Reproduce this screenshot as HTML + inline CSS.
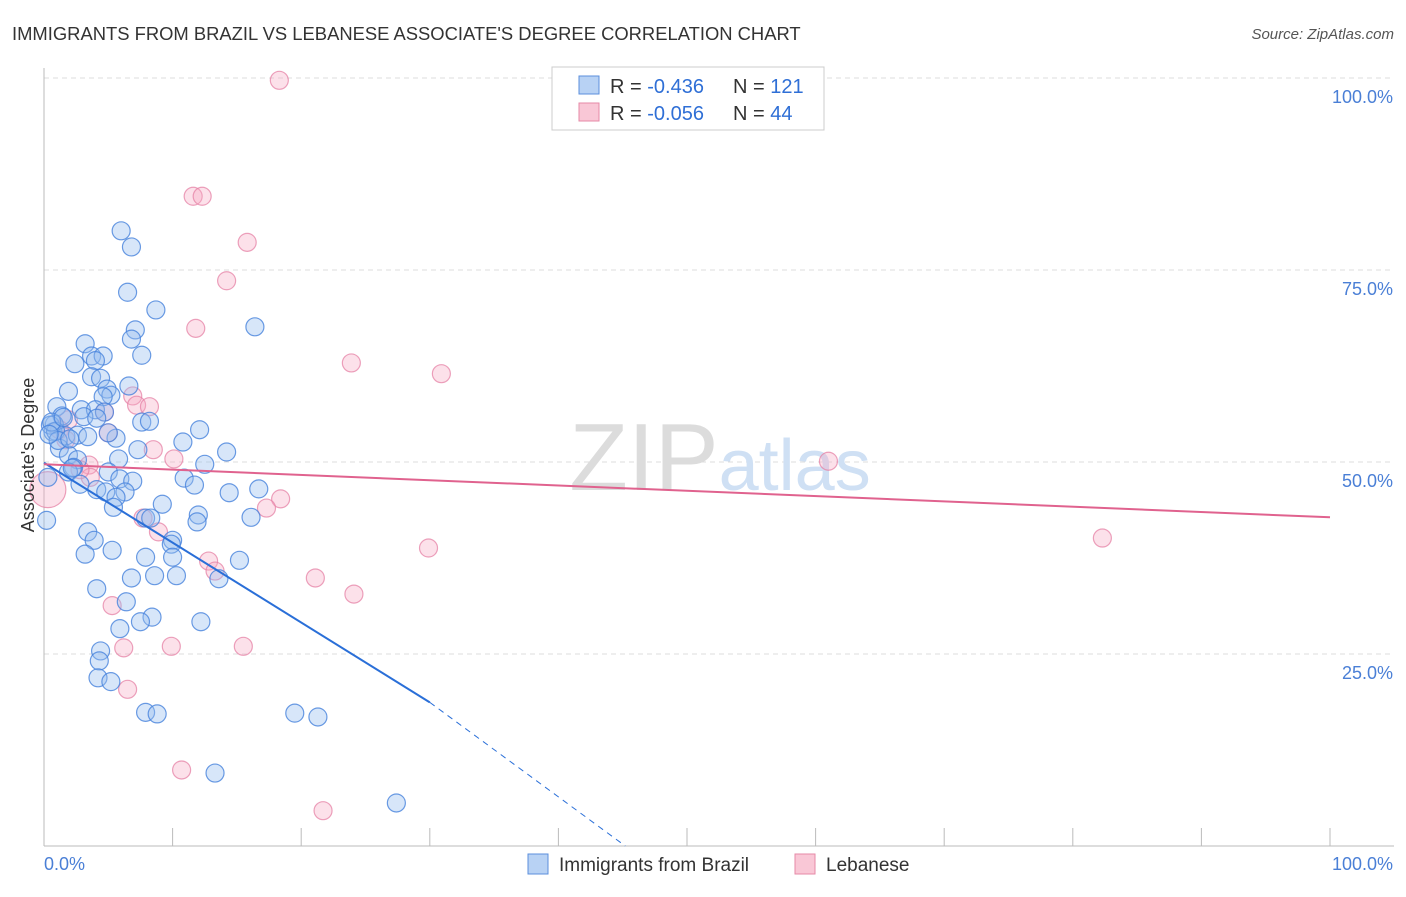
<!DOCTYPE html>
<html><head><meta charset="utf-8"><style>
body{margin:0;background:#fff;font-family:"Liberation Sans",sans-serif}
svg text{font-family:"Liberation Sans",sans-serif}
</style></head><body>
<svg id="chart" width="1406" height="892">
<text x="12" y="40" font-size="18.4" fill="#333">IMMIGRANTS FROM BRAZIL VS LEBANESE ASSOCIATE'S DEGREE CORRELATION CHART</text>
<text x="1394" y="39" font-size="15" fill="#555" text-anchor="end" font-style="italic">Source: ZipAtlas.com</text>
<g id="grid"></g>
<text x="720" y="490" font-size="96" fill="#e4e4e4" text-anchor="middle" font-family="Liberation Serif"><tspan fill="#dcdcdc">ZIP</tspan><tspan fill="#cfe0f4" font-family="Liberation Sans" font-size="72">atlas</tspan></text>
<g id="points"></g>
<g id="lines"></g>
<text x="34" y="455" font-size="18" fill="#333" text-anchor="middle" transform="rotate(-90 34 455)">Associate's Degree</text>
<g>
<rect x="552" y="67" width="272" height="63" fill="#fff" stroke="#ccc"/>
<rect x="579" y="76" width="20" height="18" fill="#b8d2f4" stroke="#5b8fdc"/>
<rect x="579" y="103" width="20" height="18" fill="#f9c7d6" stroke="#e68aa7"/>
<text x="610" y="93" font-size="20" fill="#333">R = <tspan fill="#2f6fd6">-0.436</tspan><tspan x="733">N = </tspan><tspan fill="#2f6fd6">121</tspan></text>
<text x="610" y="120" font-size="20" fill="#333">R = <tspan fill="#2f6fd6">-0.056</tspan><tspan x="733">N = </tspan><tspan fill="#2f6fd6"> 44</tspan></text>
</g>
<g>
<rect x="528" y="854" width="20" height="20" fill="#b8d2f4" stroke="#5b8fdc"/>
<text x="559" y="871" font-size="19" fill="#333">Immigrants from Brazil</text>
<rect x="795" y="854" width="20" height="20" fill="#f9c7d6" stroke="#e68aa7"/>
<text x="826" y="871" font-size="19" fill="#333">Lebanese</text>
</g>
</svg>
<script>
const yTicks=[25,50,75,100];
const yTickLabels=["25.0%","50.0%","75.0%","100.0%"];
const xTicks=[0,10,20,30,40,50,60,70,80,90,100];
const brazilX=[6.0,6.8,6.5,8.7,7.1,6.8,7.6,16.4,3.2,3.7,4.6,4.0,2.4,3.7,4.4,6.6,4.9,1.9,5.2,4.6,1.0,2.9,4.0,4.7,1.4,3.1,4.1,7.6,8.2,0.8,12.1,0.7,1.7,2.6,3.4,5.6,5.0,10.8,1.2,7.3,14.2,1.9,2.6,5.8,12.5,2.3,1.9,5.0,10.9,5.9,6.9,2.8,11.7,4.1,6.3,4.8,16.7,14.4,5.6,5.4,9.2,0.2,12.0,7.9,8.3,11.9,16.1,3.4,3.9,10.0,9.9,5.3,3.2,7.9,10.0,15.2,6.8,8.6,10.3,13.6,4.1,6.4,8.4,7.5,12.2,5.9,4.4,4.3,4.2,5.2,7.9,8.8,19.5,21.3,13.3,27.4,0.5,0.9,1.1,0.3,0.6,2.0,1.5,2.2,0.4];
const brazilY=[80.1,78.0,72.1,69.8,67.2,66.0,63.9,67.6,65.4,63.8,63.8,63.2,62.8,61.1,60.9,59.9,59.5,59.2,58.7,58.5,57.2,56.8,56.8,56.5,56.0,55.9,55.7,55.2,55.3,54.9,54.2,53.9,53.4,53.5,53.3,53.1,53.8,52.6,51.8,51.6,51.3,50.9,50.3,50.4,49.7,49.3,48.7,48.7,47.9,47.8,47.5,47.1,47.0,46.4,46.1,46.1,46.5,46.0,45.4,44.1,44.5,42.4,43.1,42.7,42.7,42.2,42.8,40.9,39.8,39.8,39.3,38.5,38.0,37.6,37.6,37.2,34.9,35.2,35.2,34.8,33.5,31.8,29.8,29.2,29.2,28.3,25.4,24.1,21.9,21.4,17.4,17.2,17.3,16.8,9.5,5.6,54.8,54.0,52.8,48.0,55.2,53.0,55.8,49.2,53.6];
const lebX=[18.3,11.6,12.3,15.8,14.2,11.8,23.9,30.9,6.9,7.2,8.2,4.7,1.9,8.5,5.0,10.1,3.5,61.0,0.3,3.6,18.4,17.3,7.7,8.9,82.3,29.9,12.8,13.3,21.1,24.1,5.3,6.2,9.9,15.5,6.5,10.7,21.7,2.8,1.2,1.7];
const lebY=[99.7,84.6,84.6,78.6,73.6,67.4,62.9,61.5,58.6,57.4,57.2,56.5,55.5,51.6,53.8,50.4,49.6,50.1,46.4,48.0,45.2,44.0,42.7,40.9,40.1,38.8,37.1,35.8,34.9,32.8,31.3,25.8,26.0,26.0,20.4,9.9,4.6,49.0,54.2,52.9];
const lebR=[9,9,9,9,9,9,9,9,9,9,9,9,9,9,9,9,9,9,18,9,9,9,9,9,9,9,9,9,9,9,9,9,9,9,9,9,9,9,9,9];
const brazilTrend=[49.9,-1.04];
const brazilDashEnd=45.2;
const lebTrend=[49.7,-0.069];
const X=v=>44+v*12.86, Y=v=>846-v*7.68;
const NS="http://www.w3.org/2000/svg";
function mk(t,a,p){const e=document.createElementNS(NS,t);for(const k in a)e.setAttribute(k,a[k]);p.appendChild(e);return e;}
const grid=document.getElementById('grid');
yTicks.forEach((t,i)=>{
 const l=mk('line',{x1:44,x2:1394,y1:Y(t),y2:Y(t),stroke:'#ddd','stroke-dasharray':'5,4'},grid);
 
 
 const tx=mk('text',{x:1393,y:Y(t)+25,'font-size':18,fill:'#4a7fd6','text-anchor':'end'},grid);
 tx.textContent=yTickLabels[i];
 
 
});
const ax=mk('line',{x1:44,x2:44,y1:68,y2:846,stroke:'#bbb'},grid);


const bx=mk('line',{x1:44,x2:1394,y1:846,y2:846,stroke:'#bbb'},grid);


xTicks.forEach(t=>{
 const l=mk('line',{x1:X(t),x2:X(t),y1:828,y2:846,stroke:'#bbb'},grid);
 
 
});
const xl0=mk('text',{x:44,y:870,'font-size':18,fill:'#4a7fd6'},grid);xl0.textContent='0.0%';


const xl1=mk('text',{x:1393,y:870,'font-size':18,fill:'#4a7fd6','text-anchor':'end'},grid);xl1.textContent='100.0%';


const pts=document.getElementById('points');
lebX.forEach((v,i)=>{
 const c=mk('circle',{cx:X(v),cy:Y(lebY[i]),r:lebR[i],fill:'rgba(246,170,195,0.35)',stroke:'rgba(230,130,165,0.75)','stroke-width':1.2},pts);
 
 
});
brazilX.forEach((v,i)=>{
 const c=mk('circle',{cx:X(v),cy:Y(brazilY[i]),r:9,fill:'rgba(150,190,240,0.38)',stroke:'rgba(70,130,220,0.8)','stroke-width':1.2},pts);
 
 
});
const ln=document.getElementById('lines');
const bs=mk('line',{x1:X(0),y1:Y(brazilTrend[0]),x2:X(30),y2:Y(brazilTrend[0]+30*brazilTrend[1]),stroke:'#2a6fd8','stroke-width':2},ln);


const bd=mk('line',{x1:X(30),y1:Y(brazilTrend[0]+30*brazilTrend[1]),x2:X(brazilDashEnd),y2:Y(0),stroke:'#2a6fd8','stroke-width':1,'stroke-dasharray':'6,5'},ln);


const ls=mk('line',{x1:X(0),y1:Y(lebTrend[0]),x2:X(100),y2:Y(lebTrend[0]+100*lebTrend[1]),stroke:'#e0628e','stroke-width':2},ln);


</script>
</body></html>
